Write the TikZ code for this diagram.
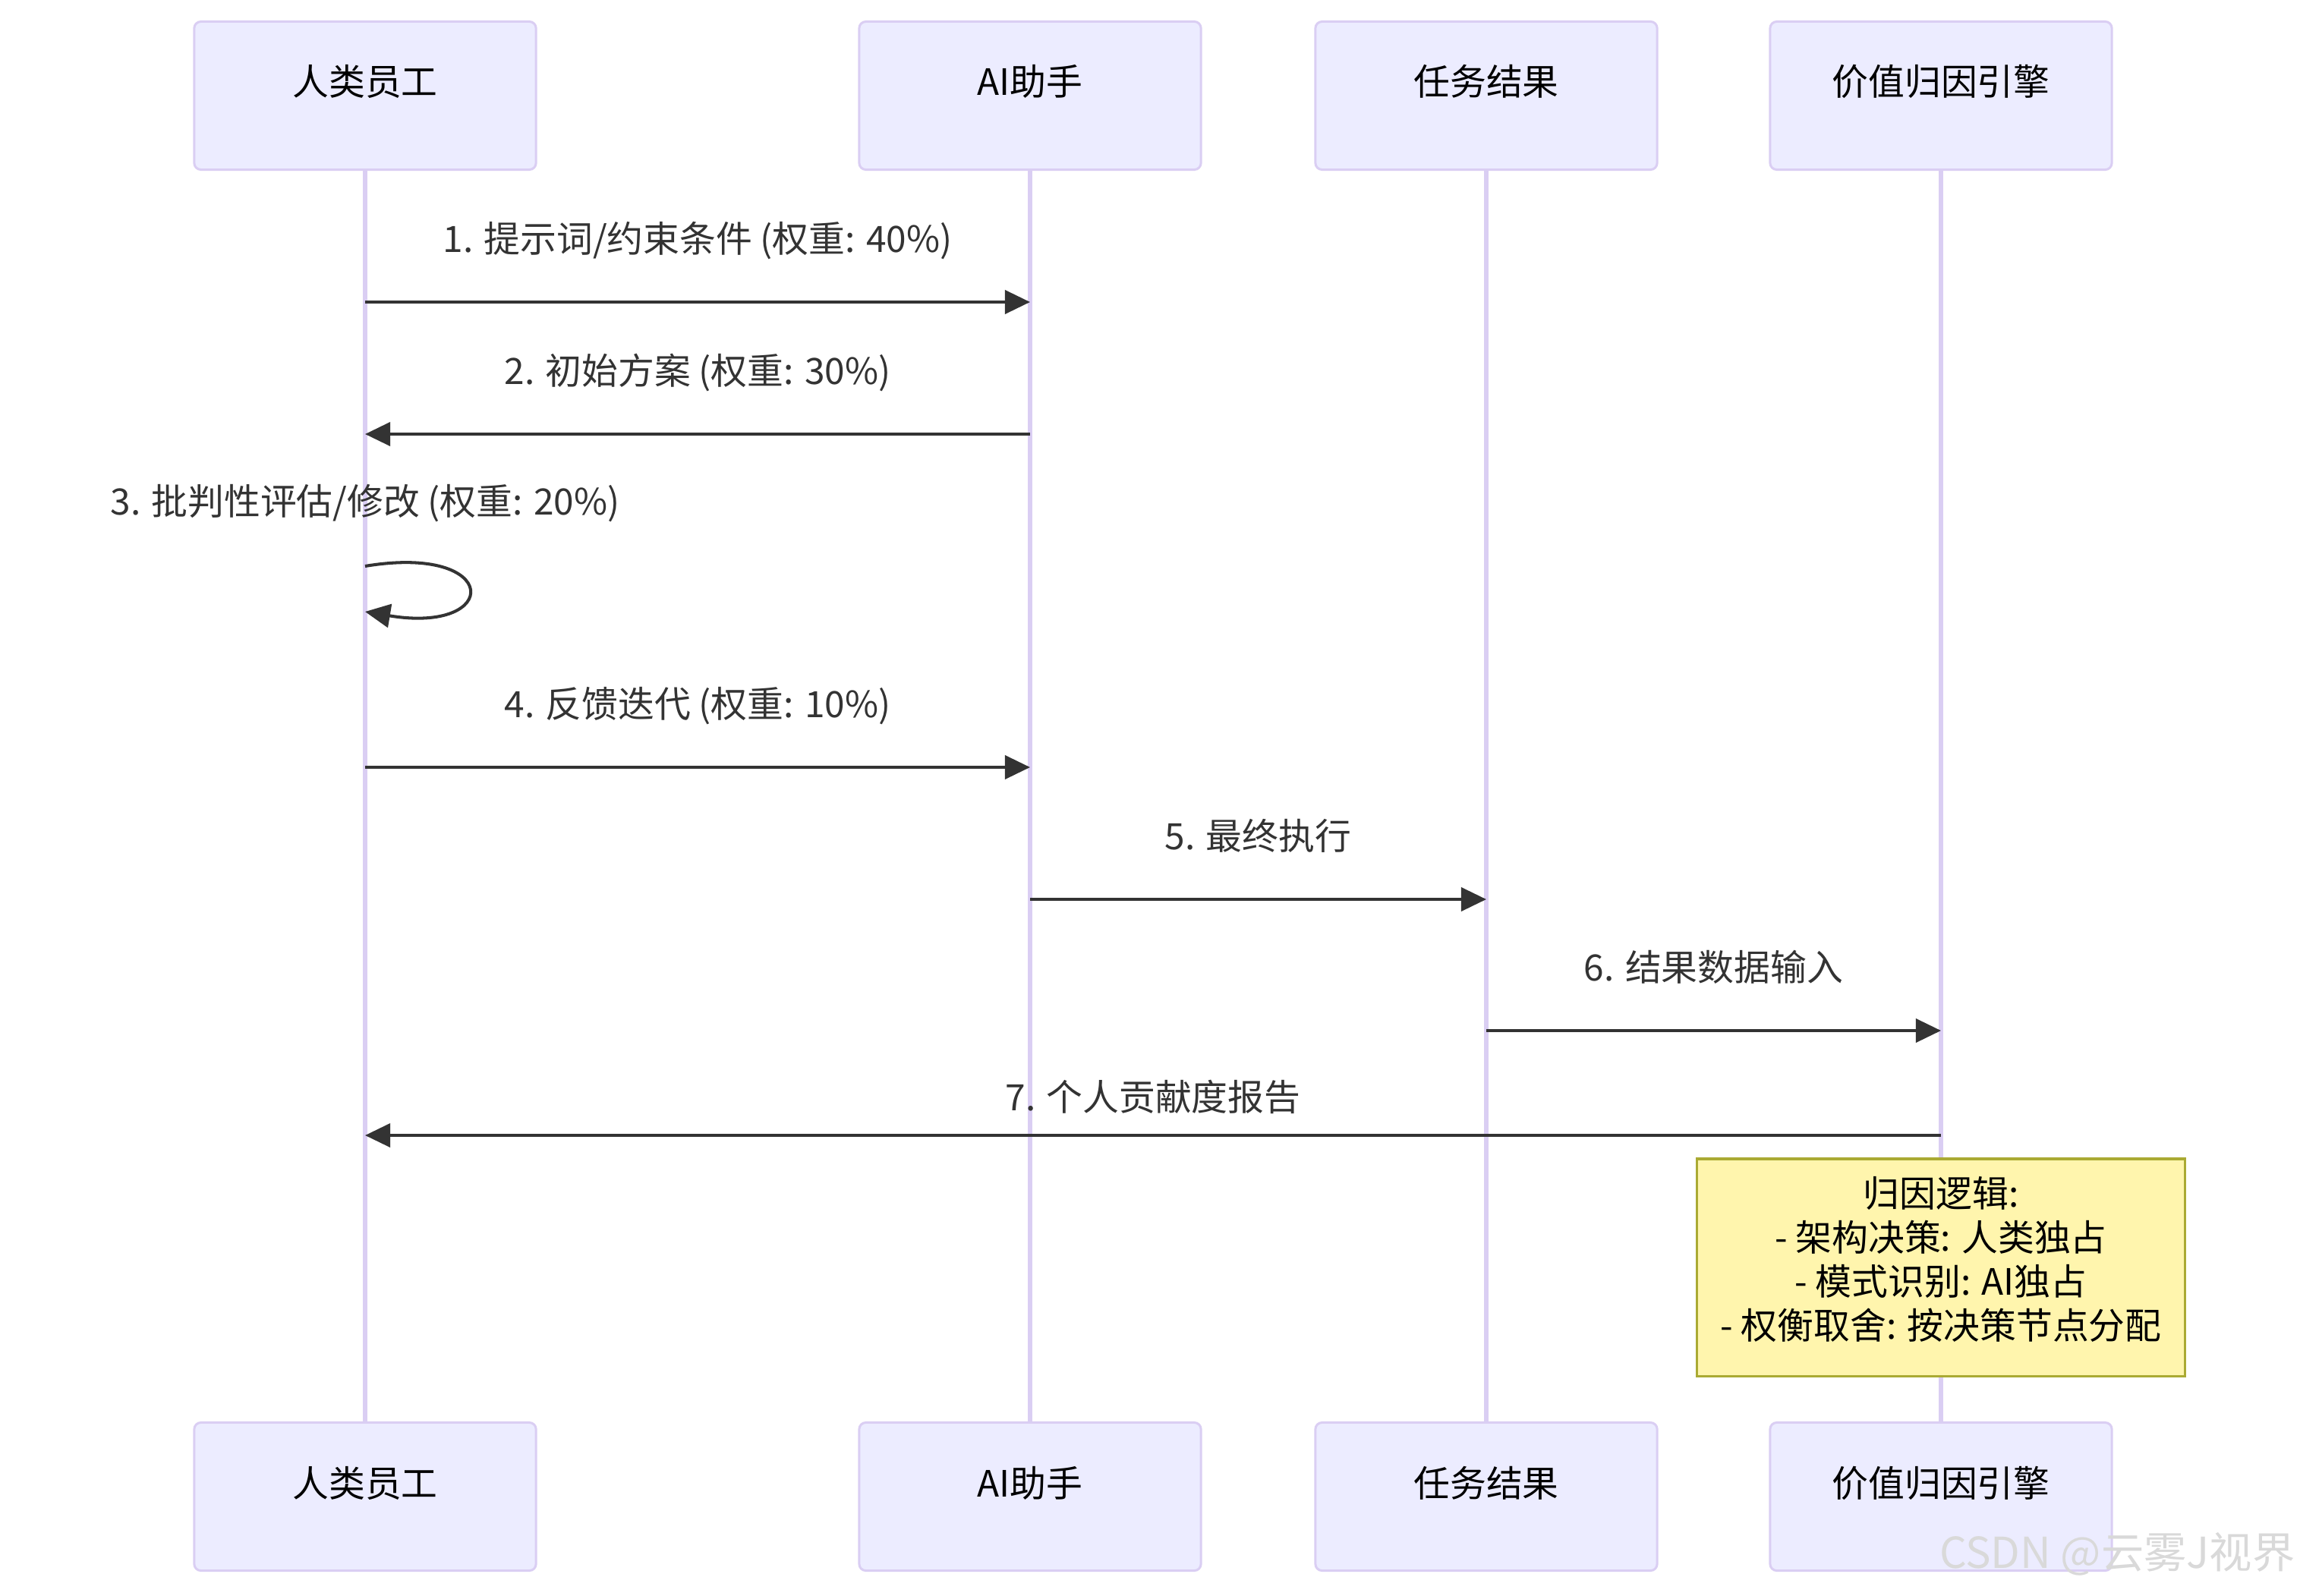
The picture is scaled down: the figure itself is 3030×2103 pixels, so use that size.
\documentclass[tikz,border=0pt]{standalone}
\usepackage{fontspec}
\setmainfont{Noto Sans CJK SC}
\usetikzlibrary{arrows.meta,positioning,backgrounds}
\definecolor{actorFill}{HTML}{ECECFF}
\definecolor{actorLine}{HTML}{DACEF3}
\definecolor{msgCol}{HTML}{333333}
\definecolor{noteFill}{HTML}{FFF5AD}
\definecolor{noteLine}{HTML}{AAAA33}

\begin{document}
\begin{tikzpicture}[x=0.01cm,y=-0.01cm,font=\fontsize{13.6}{16}\selectfont,
  actor/.style={draw=actorLine,fill=actorFill,line width=0.85pt,
    rounded corners=2.5pt,minimum width=4.5cm,minimum height=1.95cm,
    inner sep=0pt,text height=0.6cm,text depth=0.6cm},
  life/.style={actorLine,line width=1.7pt},
  msg/.style={-{Triangle[length=9.4pt,width=8.8pt]},msgCol,line width=1.15pt},
  lbl/.style={text=msgCol,inner sep=0pt,text height=0.85em,text depth=0.2em},
  note/.style={draw=noteLine,fill=noteFill,line width=0.9pt,align=center,
    minimum width=6.43cm,minimum height=2.86cm,inner sep=0pt,text depth=0.26cm,
    font=\fontsize{13.6}{16.5}\selectfont},
]
\useasboundingbox (0,0) rectangle (3030,2103);

% participants, top and bottom
\node[actor] (human) at (481,126) {人类员工};
\node[actor] (ai) at (1357,126) {AI助手};
\node[actor] (result) at (1958,126) {任务结果};
\node[actor] (engine) at (2557,126) {价值归因引擎};

\node[actor] (humanB) at (481,1972) {人类员工};
\node[actor] (aiB) at (1357,1972) {AI助手};
\node[actor] (resultB) at (1958,1972) {任务结果};
\node[actor] (engineB) at (2557,1972) {价值归因引擎};

\begin{scope}[on background layer]
  \fill[white] (0,0) rectangle (3030,2103);
  \draw[life] (human) -- (humanB);
  \draw[life] (ai) -- (aiB);
  \draw[life] (result) -- (resultB);
  \draw[life] (engine) -- (engineB);
\end{scope}

% messages
\draw[msg] (human |- 0,398) -- node[lbl,above=0.56cm] {1. 提示词/约束条件 (权重: 40\%)} (ai |- 0,398);
\draw[msg] (ai |- 0,572) -- node[lbl,above=0.56cm] {2. 初始方案 (权重: 30\%)} (human |- 0,572);

\node[lbl] (selfLbl) at (human |- 0,667) {3. 批判性评估/修改 (权重: 20\%)};
\draw[msg] (human |- 0,746) .. controls +(180,-30) and +(180,30) .. (human |- 0,806);

\draw[msg] (human |- 0,1011) -- node[lbl,above=0.56cm] {4. 反馈迭代 (权重: 10\%)} (ai |- 0,1011);
\draw[msg] (ai |- 0,1185) -- node[lbl,above=0.56cm] {5. 最终执行} (result |- 0,1185);
\draw[msg] (result |- 0,1358) -- node[lbl,above=0.56cm] {6. 结果数据输入} (engine |- 0,1358);
\draw[msg] (engine |- 0,1496) -- node[lbl,above=0.23cm] {7. 个人贡献度报告} (human |- 0,1496);

\node[note] (logic) at (2557,1670) {归因逻辑:\\- 架构决策: 人类独占\\- 模式识别: AI独占\\- 权衡取舍: 按决策节点分配};

\node[anchor=east,text=gray!30,inner sep=0pt,font=\fontsize{16}{16}\selectfont] (mark) at (3024,2048) {CSDN @云雾J视界};

\end{tikzpicture}
\end{document}
